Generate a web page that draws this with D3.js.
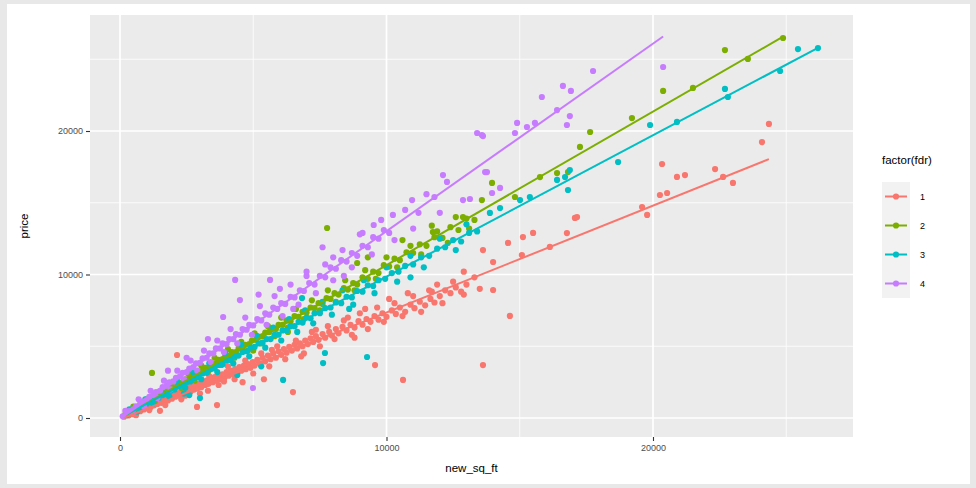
<!DOCTYPE html>
<html>
<head>
<meta charset="utf-8">
<script src="https://cdn.jsdelivr.net/npm/d3@7"></script>
<style>
  body { margin: 0; background: #e8e8e8; }
  svg { display: block; font-family: "Liberation Sans", Arial, sans-serif; }
</style>
</head>
<body>
<div id="chart"></div>
<script>
// chart data
var groups = ['1', '2', '3', '4'];
var colors = ['#F8766D', '#7CAE00', '#00BFC4', '#C77CFF'];

var xTicks = [0, 10000, 20000];
var yTicks = [0, 10000, 20000];
var xMinor = [5000, 15000, 25000];
var yMinor = [5000, 15000, 25000];

// lm fits per group: intercept, slope, x range
var fitIntercept = [-100, -50, 0, -50];
var fitSlope = [0.745, 1.07, 0.985, 1.307];
var fitXmin = [150, 200, 250, 100];
var fitXmax = [24350, 24880, 26190, 20380];

var points1 = [
  [150,90],[250,220],[320,180],[400,310],[480,260],[550,420],[620,380],[700,560],[760,470],[820,650],
  [900,600],[950,780],[1000,700],[1080,820],[1150,760],[1200,950],[1280,880],[1350,1050],[1400,980],[1480,1150],
  [1550,1060],[1600,1250],[1680,1180],[1750,1400],[1800,1220],[1880,1450],[1950,1350],[2000,1600],[2080,1480],[2150,1700],
  [2200,1550],[2280,1800],[2350,1650],[2420,1900],[2500,1780],[2560,2050],[2650,1850],[2700,2150],[2780,1980],[2850,2250],
  [2900,2050],[2980,2400],[3050,2150],[3100,2500],[3200,2300],[3250,2600],[3320,2380],[3400,2700],[3480,2500],[3550,2850],
  [3620,2600],[3700,2950],[3780,2700],[3850,3050],[3920,2800],[4000,3200],[4080,2950],[4150,3300],[4250,3050],[4320,3400],
  [4400,3150],[4480,3550],[4550,3300],[4650,3650],[4720,3400],[4800,3750],[4900,3500],[4980,3900],[5050,3650],[5150,4050],
  [5250,3800],[5350,4200],[5450,3950],[5550,4350],[5650,4100],[5750,4500],[5850,4200],[5950,4650],[6050,4400],[6150,4800],
  [6250,4550],[6350,4950],[6450,4700],[6550,5100],[6650,4850],[6750,5200],[6850,5000],[6950,5400],[7050,5150],[7150,5550],
  [7250,5300],[7350,5700],[7450,5450],[7600,5850],[7700,5600],[7850,6000],[7950,5750],[8100,6200],[8200,5900],[8350,6350],
  [8500,6100],[8650,6500],[8800,6300],[8950,6750],[9100,6500],[9250,6900],[9400,6700],[9550,7100],[9700,6850],[9850,7300],
  [10000,7050],[10200,7500],[10350,7250],[10500,7700],[10700,7400],[10900,7900],[11050,7650],[11250,8100],[11450,7850],[11650,8300],
  [11800,8050],[12000,8500],[12200,8900],[12400,8700],[12600,9100],[12800,8800],[13000,9300],
  [300,350],[600,200],[900,900],[1100,550],[1300,1200],[1700,900],[1900,1700],[2300,1300],[2600,2300],[3000,1700],
  [3350,2900],[3700,2300],[4050,3600],[4300,2700],[4700,4000],[5000,3100],[5300,4500],[5600,3600],[5900,5000],[6200,4100],
  [6600,5400],[6900,4500],[7200,6000],[7500,5000],[7800,6400],[8050,5500],[8400,6800],[8700,5800],[9000,7300],[9300,6200],
  [9650,7700],[9900,6700],[10300,8000],[10600,7100],[11000,8500],[11300,7400],[11700,8800],[12100,8000],[12500,9500],[12900,8600],
  [13300,9800],[13500,9000],[2450,1550],[3900,2550],[5700,4750],[7350,6150],[8550,7000],[10800,8700],[11900,9300],[9200,7600],
  [5400,2700],[4600,2500],[3640,900],[2890,770],[6490,1810],[9570,3690],[10620,2650],[13620,3690],[14630,7110],[14000,8920],
  [14000,10870],[13620,11700],[15080,11360],[16130,11920],[14560,12200],[15120,12610],[15500,12900],[16770,12890],[17070,13940],[17150,14000],
  [19590,14700],[19780,14150],[20260,15540],[20530,15680],[20900,16800],[21200,16930],[20340,17700],[22330,17350],[22630,16800],[23000,16380],
  [24090,19230],[24350,20490],[2140,4390],[1500,500],[3300,1900],[6800,4300],[8800,5600],[10100,8300],[11600,8900],[12900,10200]
];

var points2 = [
  [200,250],[350,330],[450,520],[600,600],[700,800],[850,870],[950,1050],[1100,1150],[1200,1320],[1350,1400],
  [1450,1600],[1600,1680],[1700,1880],[1850,1950],[1950,2150],[2100,2200],[2200,2400],[2350,2480],[2450,2700],[2600,2750],
  [2700,2950],[2850,3000],[2950,3250],[3100,3300],[3200,3500],[3350,3550],[3450,3750],[3600,3800],[3700,4050],[3850,4100],
  [3950,4300],[4100,4350],[4200,4600],[4350,4600],[4450,4850],[4600,4900],[4700,5100],[4850,5150],[4950,5400],[5100,5450],
  [5200,5650],[5350,5700],[5450,5950],[5600,6000],[5700,6200],[5850,6200],[5950,6500],[6100,6500],[6250,6800],[6400,6750],
  [6550,7100],[6700,7050],[6850,7400],[7000,7350],[7150,7700],[7300,7650],[7450,8000],[7600,7950],[7750,8350],[7900,8300],
  [8050,8700],[8200,8600],[8400,9050],[8550,8950],[8750,9400],[8900,9300],[9100,9800],[9300,9700],[9500,10200],[9700,10100],
  [9900,10650],[10100,10550],[10300,11100],[10500,11000],[10750,11550],[11000,11500],[11250,12100],[11500,12000],[11800,12600],[12100,12550],
  [12400,13300],[12700,13100],[13000,13900],[13300,13800],[13580,15190],[13960,16380],[14820,15400],[15760,16790],[16400,17070],[16810,17140],
  [17260,18890],[17640,19930],[19210,20900],[20380,22790],[21500,23000],[22700,25640],[23560,25020],[24880,26480],
  [500,800],[800,650],[1000,1300],[1300,1100],[1550,1900],[1800,1600],[2050,2500],[2300,2100],[2550,3100],[2800,2600],
  [3050,3650],[3300,3200],[3550,4200],[3800,3700],[4050,4800],[4300,4200],[4550,5300],[4800,4700],[5050,5900],[5300,5200],
  [5550,6400],[5800,5700],[6050,7000],[6300,6300],[6600,7600],[6900,6900],[7200,8200],[7500,7500],[7800,8900],[8100,8100],
  [8450,9600],[8800,8900],[9200,10300],[9600,9700],[10000,11200],[10400,10500],[10900,12000],[11300,11400],[11900,13000],[12300,12200],
  [12600,14000],[13100,13200],
  [1200,3140],[7770,13240],[8900,10800],[9300,11200],[10600,12400],[11700,13400],[11740,12960],[12870,14000],[5000,4700],[6300,6000]
];

var points3 = [
  [250,200],[400,380],[550,500],[700,700],[850,800],[1000,1000],[1150,1100],[1300,1300],[1450,1400],[1600,1600],
  [1750,1680],[1900,1900],[2050,1980],[2200,2200],[2350,2280],[2500,2500],[2650,2550],[2800,2800],[2950,2850],[3100,3100],
  [3250,3150],[3400,3400],[3550,3450],[3700,3700],[3850,3750],[4000,4000],[4150,4050],[4300,4300],[4450,4350],[4600,4600],
  [4750,4650],[4900,4900],[5050,4950],[5200,5200],[5350,5250],[5500,5500],[5650,5500],[5800,5800],[5950,5800],[6100,6100],
  [6250,6100],[6400,6400],[6550,6400],[6700,6700],[6850,6650],[7000,7000],[7150,6950],[7300,7300],[7500,7300],[7700,7650],
  [7900,7700],[8100,8050],[8300,8000],[8500,8450],[8700,8400],[8900,8850],[9100,8800],[9300,9250],[9500,9200],[9700,9600],
  [9950,9700],[10200,10100],[10450,10200],[10700,10600],[11000,10700],[11300,11200],[11600,11300],[11900,11800],[12200,11900],[12500,12400],
  [12800,12300],[13100,12900],[13400,13000],[13880,14290],[14260,14630],[15010,15190],[15380,15400],[16400,16590],[16700,16790],[16810,15890],
  [16880,17280],[18690,17840],[19890,20420],[20900,20630],[22700,22930],[22810,22370],[24770,24180],[25440,25710],[26190,25780],
  [350,600],[650,450],[950,1300],[1250,1000],[1550,1900],[1850,1500],[2150,2600],[2450,2100],[2750,3200],[3050,2700],
  [3350,3800],[3650,3200],[3950,4500],[4250,3800],[4550,5100],[4850,4300],[5150,5700],[5450,4900],[5750,6300],[6050,5400],
  [6350,6900],[6650,6000],[6950,7500],[7250,6600],[7600,8100],[7950,7200],[8350,8900],[8750,7900],[9150,9600],[9550,8700],
  [10000,10500],[10400,9500],[10900,11300],[11400,10500],[12000,12500],[12600,11700],[13000,13500],[2600,1600],[4400,3000],[5300,3600],
  [7690,4530],[7620,3830],[9270,4250],[6120,2650],[3000,1390],[6830,8360],[2400,1700],[8600,7600],[10900,9800]
];

var points4 = [
  [100,120],[250,300],[350,480],[500,600],[600,820],[750,950],[850,1150],[1000,1250],[1100,1480],[1250,1600],
  [1350,1800],[1500,1900],[1600,2150],[1750,2250],[1850,2480],[2000,2550],[2100,2800],[2250,2900],[2350,3150],[2500,3200],
  [2600,3450],[2750,3550],[2850,3800],[3000,3850],[3100,4150],[3250,4200],[3350,4500],[3500,4500],[3600,4850],[3750,4850],
  [3850,5200],[4000,5150],[4100,5500],[4250,5500],[4350,5850],[4500,5800],[4600,6200],[4750,6150],[4850,6500],[5000,6450],
  [5150,6900],[5300,6800],[5450,7300],[5600,7200],[5750,7700],[5900,7600],[6050,8000],[6200,7950],[6400,8450],[6550,8400],
  [6750,8900],[6900,8850],[7100,9400],[7300,9300],[7500,9900],[7700,9800],[7900,10500],[8100,10400],[8300,11000],[8500,10900],
  [8700,11500],[8900,11300],[9100,12000],[9300,11900],[9500,12600],[9700,12500],[9900,13100],[10100,12900],[10240,14150],[10960,15190],
  [12120,16930],[12270,16450],[12870,15190],[13130,15260],[13400,19860],[13580,19720],[13620,19650],[13700,17140],[13770,17140],[13960,15680],
  [14260,16030],[14820,19860],[14900,20560],[15270,20280],[15570,20560],[15830,22370],[16400,21460],[16620,23140],[16770,20420],[16880,21040],
  [16920,22790],[17750,24180],[20380,24460],
  [200,500],[450,350],[700,1300],[900,800],[1150,1900],[1400,1400],[1650,2600],[1900,2000],[2150,3300],[2400,2700],
  [2650,4000],[2900,3300],[3150,4700],[3400,3900],[3650,5400],[3900,4600],[4150,6200],[4400,5200],[4700,7000],[4950,5800],
  [5250,7800],[5500,6500],[5800,8500],[6100,7100],[6400,9300],[6700,7900],[7000,9900],[7350,8700],[7700,10700],[8000,9600],
  [8350,11700],[8700,10500],[9100,12900],[9450,11400],[9800,13800],[10300,12400],[10700,14500],[11000,13200],[11500,15600],[12000,14300],
  [3300,5500],[2500,4200],[5200,8600],[7600,11900],[1800,3300],
  [4320,9620],[5630,9620],[4500,8220],[3870,7040],[4990,2090],[6000,9000],[7000,10200],[8000,11200],[9000,12800],[6500,7600],
  [8400,9900],[9520,13450],[11200,14300],[11800,15400]
];

var seriesPoints = [points1, points2, points3, points4];

var width = 976, height = 488;
var panel = {left: 90, right: 853, top: 15, bottom: 437};

var svg = d3.select('#chart').append('svg')
    .attr('width', width)
    .attr('height', height);

svg.append('rect')
    .attr('x', 7).attr('y', 4)
    .attr('width', width - 13).attr('height', height - 8)
    .attr('fill', '#ffffff');

var x = d3.scaleLinear()
    .domain([-1126, 27505])
    .range([panel.left, panel.right]);

var y = d3.scaleLinear()
    .domain([-1324, 28084])
    .range([panel.bottom, panel.top]);

// panel background + grid
svg.append('rect')
    .attr('x', panel.left).attr('y', panel.top)
    .attr('width', panel.right - panel.left)
    .attr('height', panel.bottom - panel.top)
    .attr('fill', '#ebebeb');

var grid = svg.append('g');
grid.selectAll('.xminor').data(xMinor).enter().append('line')
    .attr('x1', x).attr('x2', x)
    .attr('y1', panel.top).attr('y2', panel.bottom)
    .attr('stroke', '#ffffff').attr('stroke-width', 0.8);
grid.selectAll('.yminor').data(yMinor).enter().append('line')
    .attr('y1', y).attr('y2', y)
    .attr('x1', panel.left).attr('x2', panel.right)
    .attr('stroke', '#ffffff').attr('stroke-width', 0.8);
grid.selectAll('.xmajor').data(xTicks).enter().append('line')
    .attr('x1', x).attr('x2', x)
    .attr('y1', panel.top).attr('y2', panel.bottom)
    .attr('stroke', '#ffffff').attr('stroke-width', 1.7);
grid.selectAll('.ymajor').data(yTicks).enter().append('line')
    .attr('y1', y).attr('y2', y)
    .attr('x1', panel.left).attr('x2', panel.right)
    .attr('stroke', '#ffffff').attr('stroke-width', 1.7);

// axes
var xAxis = d3.axisBottom(x).tickValues(xTicks).tickSize(4).tickPadding(4).tickFormat(d3.format('d'));
var yAxis = d3.axisLeft(y).tickValues(yTicks).tickSize(4).tickPadding(3).tickFormat(d3.format('d'));

var gx = svg.append('g')
    .attr('transform', 'translate(0,' + panel.bottom + ')')
    .call(xAxis);
var gy = svg.append('g')
    .attr('transform', 'translate(' + panel.left + ',0)')
    .call(yAxis);

[gx, gy].forEach(function(g) {
  g.select('.domain').remove();
  g.selectAll('line').attr('stroke', '#333333').attr('stroke-width', 1.1);
  g.selectAll('text').attr('fill', '#4d4d4d').style('font-size', '9px');
});

svg.append('text')
    .attr('x', (panel.left + panel.right) / 2)
    .attr('y', 472)
    .attr('text-anchor', 'middle')
    .attr('fill', '#000')
    .style('font-size', '11.5px')
    .text('new_sq_ft');

svg.append('text')
    .attr('transform', 'translate(28,' + (panel.top + panel.bottom) / 2 + ') rotate(-90)')
    .attr('text-anchor', 'middle')
    .attr('fill', '#000')
    .style('font-size', '11.5px')
    .text('price');

// points
groups.forEach(function(g, i) {
  svg.append('g').selectAll('circle')
      .data(seriesPoints[i])
      .enter().append('circle')
      .attr('cx', function(d) { return x(d[0]); })
      .attr('cy', function(d) { return y(d[1]); })
      .attr('r', 3.1)
      .attr('fill', colors[i]);
});

// fitted lines
groups.forEach(function(g, i) {
  var ends = [fitXmin[i], fitXmax[i]];
  svg.append('line')
      .attr('x1', x(ends[0]))
      .attr('y1', y(fitIntercept[i] + fitSlope[i] * ends[0]))
      .attr('x2', x(ends[1]))
      .attr('y2', y(fitIntercept[i] + fitSlope[i] * ends[1]))
      .attr('stroke', colors[i])
      .attr('stroke-width', 2);
});

// legend
var legend = svg.append('g').attr('transform', 'translate(882,0)');
legend.append('text')
    .attr('x', 0).attr('y', 164)
    .attr('fill', '#000')
    .style('font-size', '11.5px')
    .text('factor(fdr)');

var keyY = d3.scaleBand().domain(groups).range([182, 298]);

var keys = legend.selectAll('.key').data(groups).enter().append('g')
    .attr('transform', function(d) { return 'translate(0,' + keyY(d) + ')'; });
keys.append('rect')
    .attr('width', 28).attr('height', keyY.bandwidth())
    .attr('fill', '#f2f2f2');
keys.append('line')
    .attr('x1', 3).attr('x2', 25)
    .attr('y1', keyY.bandwidth() / 2).attr('y2', keyY.bandwidth() / 2)
    .attr('stroke', function(d, i) { return colors[i]; })
    .attr('stroke-width', 2);
keys.append('circle')
    .attr('cx', 14).attr('cy', keyY.bandwidth() / 2)
    .attr('r', 3.1)
    .attr('fill', function(d, i) { return colors[i]; });
keys.append('text')
    .attr('x', 38).attr('y', keyY.bandwidth() / 2)
    .attr('dy', '0.35em')
    .attr('fill', '#000')
    .style('font-size', '9px')
    .text(function(d) { return d; });
</script>
</body>
</html>
